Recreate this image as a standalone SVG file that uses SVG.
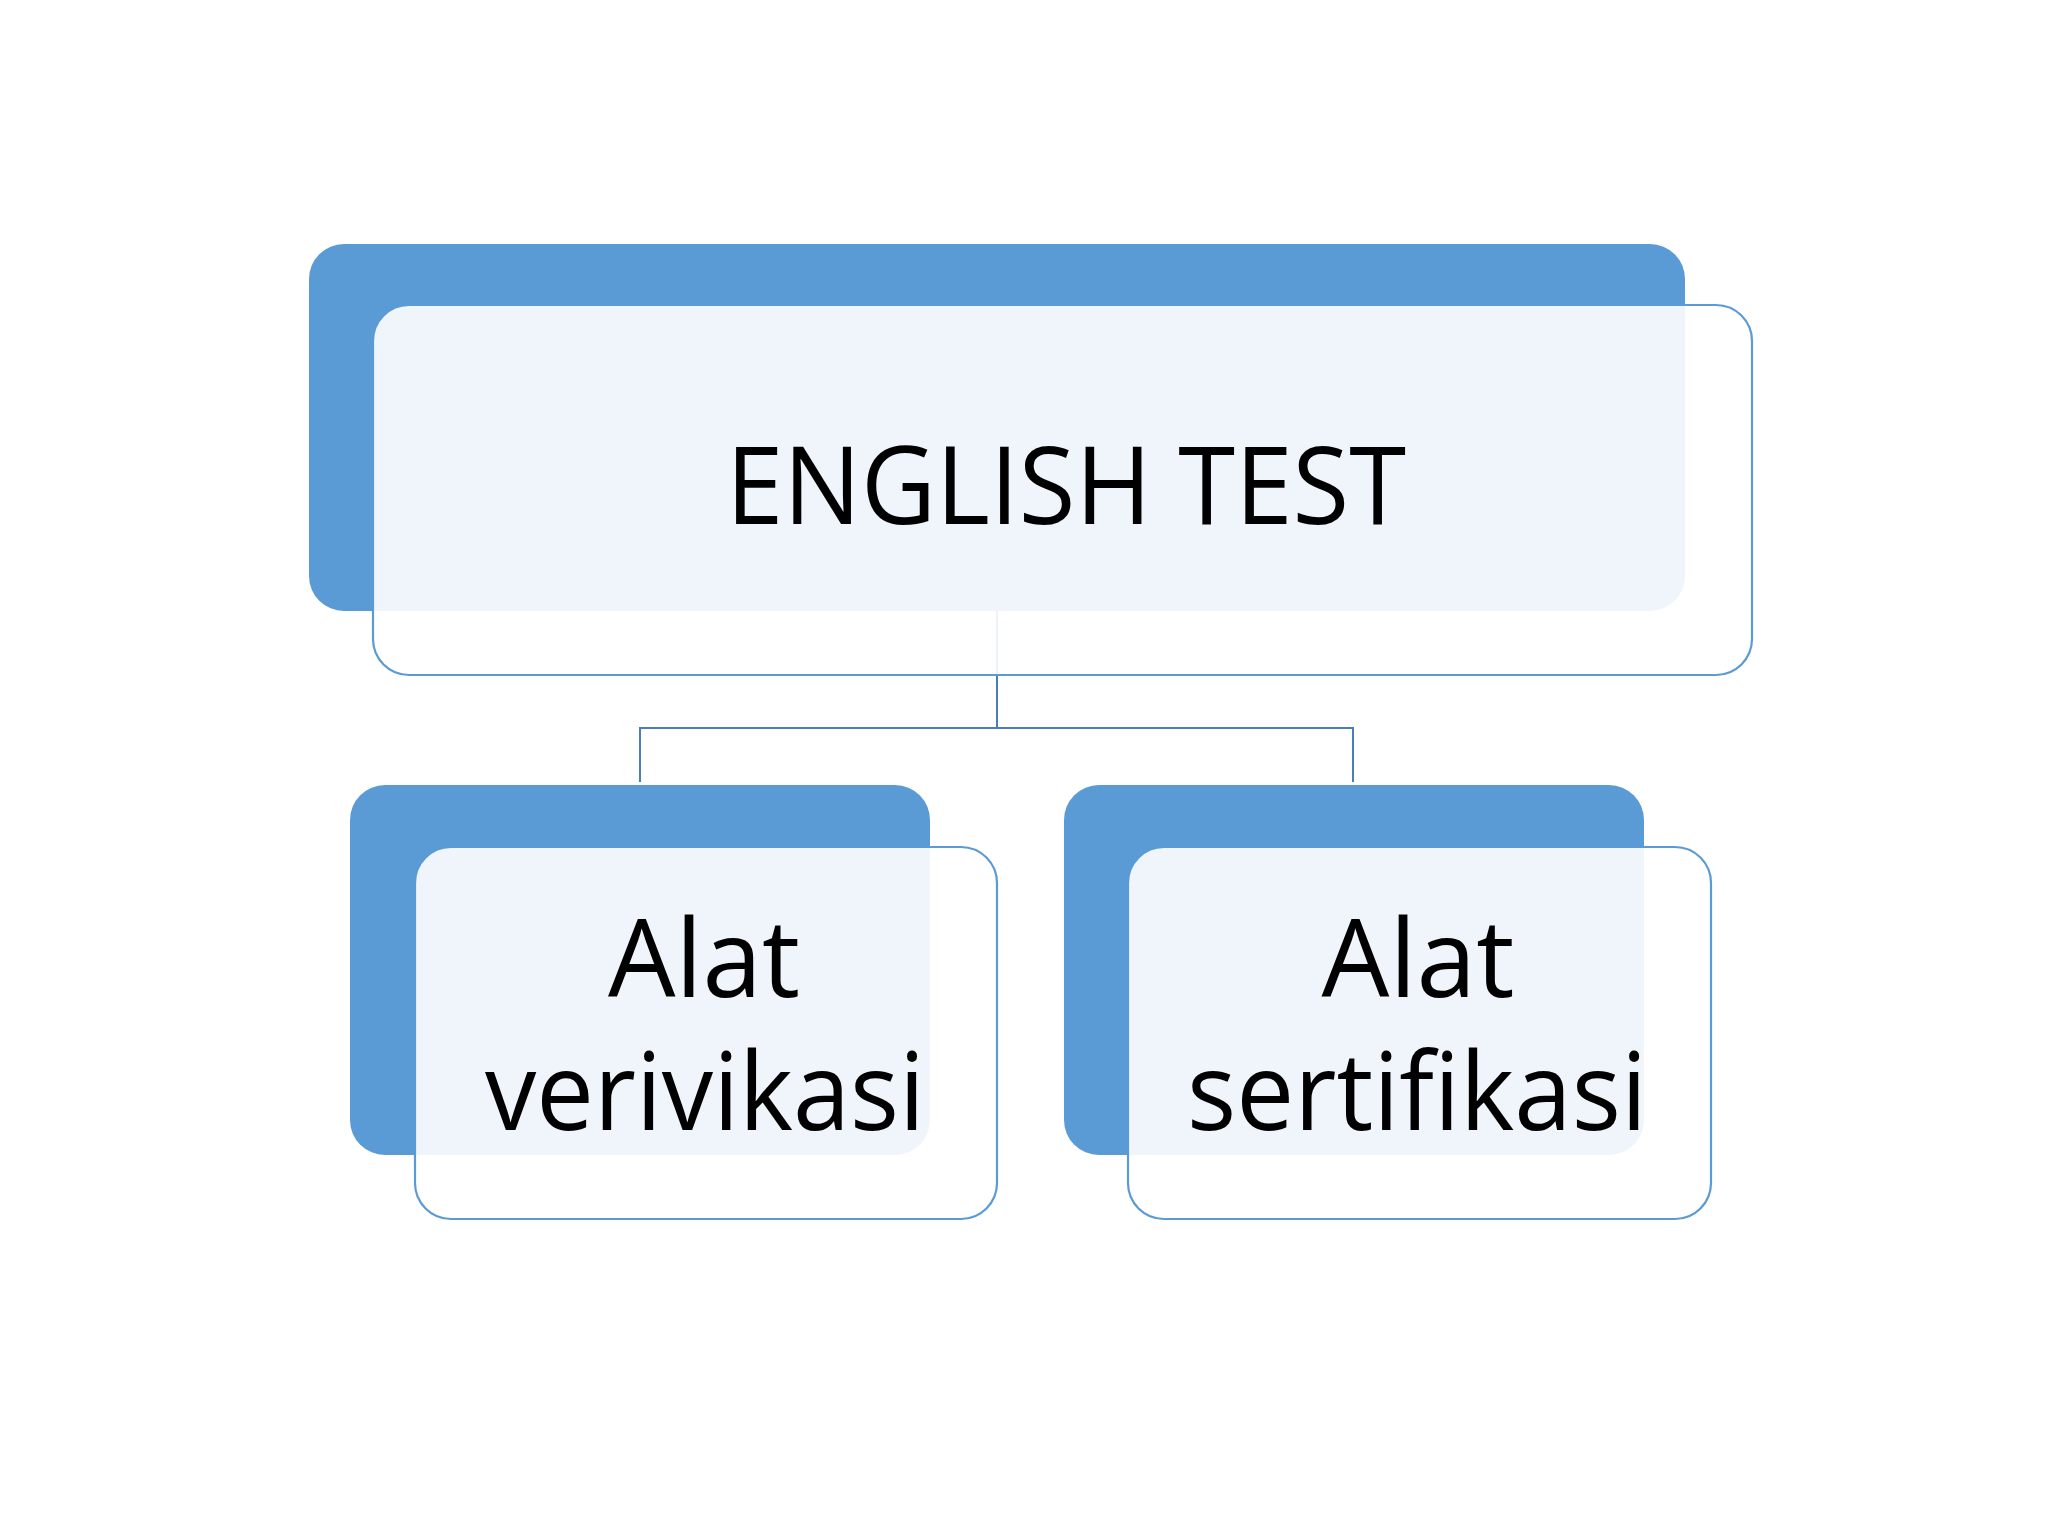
<svg xmlns="http://www.w3.org/2000/svg" width="2048" height="1536" viewBox="0 0 2048 1536">
<style>
.back{fill:#5B9BD5;}
.front{fill:#FFFFFF;fill-opacity:0.9;stroke:#5B9BD5;stroke-width:2.2;}
.lbl{font-family:"Open Sans",Lato,"Liberation Sans",sans-serif;font-size:108px;fill:#000000;text-anchor:middle;font-variant-ligatures:none;}
.conn{fill:none;stroke:#4A7EBB;stroke-width:2;}
</style>
<rect width="2048" height="1536" fill="#FFFFFF"/>
<g id="connectors">
<path class="conn" d="M997,611 V728 M640,728 H1353 M640,727 V782 M1353,727 V782"/>
</g>
<g id="node-english-test">
<rect class="back" x="309" y="244" width="1376" height="367" rx="35" ry="35"/>
<rect class="front" x="373" y="305" width="1379" height="370" rx="36" ry="36"/>
<text class="lbl" x="1066" y="524" textLength="680" lengthAdjust="spacingAndGlyphs">ENGLISH TEST</text>
</g>
<g id="node-alat-verivikasi">
<rect class="back" x="350" y="785" width="580" height="370" rx="35" ry="35"/>
<rect class="front" x="415" y="847" width="582" height="372" rx="36" ry="36"/>
<text class="lbl" x="704" y="997" textLength="192" lengthAdjust="spacingAndGlyphs">Alat</text>
<text class="lbl" x="705" y="1130" textLength="440" lengthAdjust="spacingAndGlyphs">verivikasi</text>
</g>
<g id="node-alat-sertifikasi">
<rect class="back" x="1064" y="785" width="580" height="370" rx="35" ry="35"/>
<rect class="front" x="1128" y="847" width="583" height="372" rx="36" ry="36"/>
<text class="lbl" x="1418" y="997" textLength="193" lengthAdjust="spacingAndGlyphs">Alat</text>
<text class="lbl" x="1417" y="1130" textLength="460" lengthAdjust="spacingAndGlyphs">sertifikasi</text>
</g>
</svg>
